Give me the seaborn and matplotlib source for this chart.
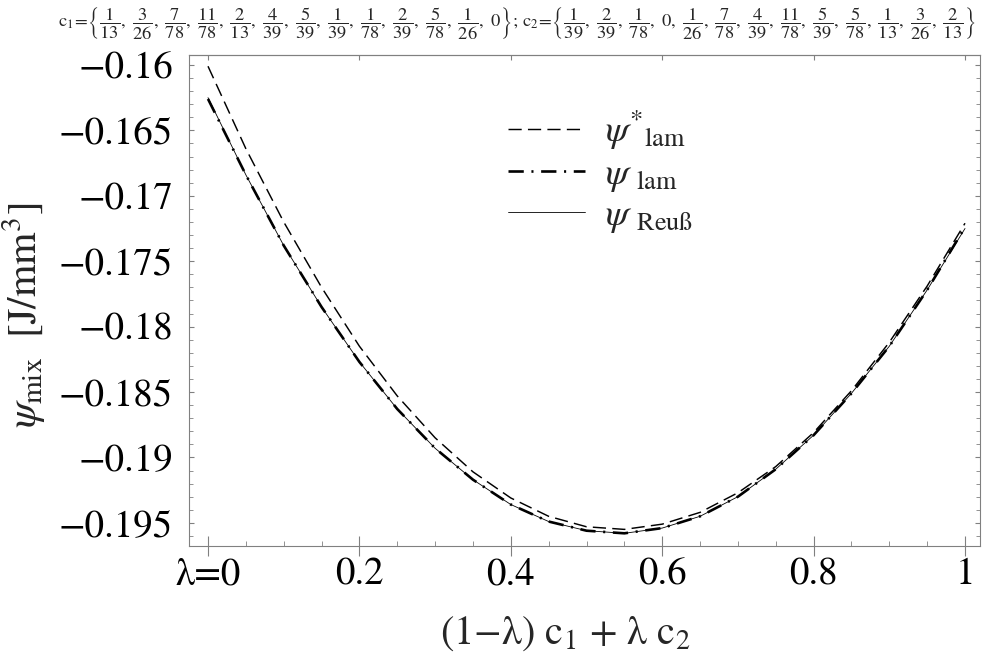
import matplotlib
matplotlib.use("Agg")
import matplotlib.pyplot as plt
from matplotlib.ticker import FixedLocator, MultipleLocator, NullLocator
import seaborn as sns
import pandas as pd

# ---- data ----
x_vals = [0.0, 0.05, 0.1, 0.15, 0.2, 0.25, 0.3, 0.35, 0.4, 0.45, 0.5,
          0.55, 0.6, 0.65, 0.7, 0.75, 0.8, 0.85, 0.9, 0.95, 1.0]
psi_star_lam = [-0.1601, -0.1664, -0.1720, -0.1770, -0.1815, -0.1853, -0.1885,
                -0.1911, -0.1931, -0.1945, -0.1953, -0.1955, -0.1951, -0.1942,
                -0.1927, -0.1907, -0.1881, -0.1849, -0.1812, -0.1769, -0.1721]
psi_lam = [-0.1626, -0.1684, -0.1738, -0.1785, -0.1827, -0.1863, -0.1893,
           -0.1917, -0.1936, -0.1949, -0.1956, -0.1958, -0.1954, -0.1945,
           -0.1930, -0.1909, -0.1883, -0.1851, -0.1815, -0.1772, -0.1724]
psi_reuss = [-0.1625, -0.1684, -0.1738, -0.1785, -0.1827, -0.1863, -0.1893,
             -0.1917, -0.1936, -0.1949, -0.1956, -0.1958, -0.1954, -0.1945,
             -0.1930, -0.1909, -0.1883, -0.1851, -0.1815, -0.1772, -0.1725]

x_ticks = [0.0, 0.2, 0.4, 0.6, 0.8, 1.0]
x_tick_labels = ["λ=0", "0.2", "0.4", "0.6", "0.8", "1"]
y_ticks = [-0.16, -0.165, -0.17, -0.175, -0.18, -0.185, -0.19, -0.195]
y_tick_labels = ["−0.16", "−0.165", "−0.17", "−0.175", "−0.18", "−0.185",
                 "−0.19", "−0.195"]

c1_fracs = ["1/13", "3/26", "7/78", "11/78", "2/13", "4/39", "5/39", "1/39",
            "1/78", "2/39", "5/78", "1/26", "0"]
c2_fracs = ["1/39", "2/39", "1/78", "0", "1/26", "7/78", "4/39", "11/78",
            "5/39", "5/78", "1/13", "3/26", "2/13"]

legend_labels = [r"$\psi^{*}{}_{\mathrm{lam}}$", r"$\psi\ {}_{\mathrm{lam}}$",
                 r"$\psi\ {}_{\mathrm{Reuß}}$"]

# ---- style ----
sns.set_theme(style="white")
plt.rcParams["font.family"] = ["STIXGeneral", "DejaVu Sans"]
plt.rcParams["mathtext.fontset"] = "stix"
plt.rcParams["lines.scale_dashes"] = False
plt.rcParams["axes.unicode_minus"] = True

GRAY = "#808080"

fig = plt.figure(figsize=(9.86, 6.61), dpi=100)
ax = fig.add_axes([189 / 986, 115 / 661, (980 - 189) / 986, (546 - 55) / 661])

df = pd.DataFrame({"x": x_vals, "star": psi_star_lam, "lam": psi_lam,
                   "reuss": psi_reuss})

sns.lineplot(data=df, x="x", y="star", ax=ax, color="black", lw=1.05,
             linestyle=(0, (9.5, 4.5)), label=legend_labels[0])
sns.lineplot(data=df, x="x", y="lam", ax=ax, color="black", lw=1.9,
             linestyle=(0, (11.0, 5.5, 1.5, 5.5)), label=legend_labels[1])
sns.lineplot(data=df, x="x", y="reuss", ax=ax, color="black", lw=0.6,
             linestyle="-", label=legend_labels[2])

ax.set_xlim(-0.0251, 1.0198)
ax.set_ylim(-0.19677, -0.15924)

ax.xaxis.set_major_locator(FixedLocator(x_ticks))
ax.set_xticklabels(x_tick_labels)
ax.xaxis.set_minor_locator(MultipleLocator(0.05))
ax.yaxis.set_major_locator(FixedLocator(y_ticks))
ax.set_yticklabels(y_tick_labels)
ax.yaxis.set_minor_locator(MultipleLocator(0.001))

for s in ax.spines.values():
    s.set_visible(True)
    s.set_color(GRAY)
    s.set_linewidth(0.8)

ax.tick_params(axis="x", which="major", direction="inout", length=13.7,
               width=0.8, color=GRAY, bottom=True, top=False,
               labelsize=28, pad=1.5, labelcolor="black")
ax.tick_params(axis="x", which="minor", direction="in", length=3.6,
               width=0.6, color=GRAY, bottom=True, top=False)
ax.tick_params(axis="y", which="major", direction="in", length=3.8,
               width=0.8, color=GRAY, left=True, right=True,
               labelsize=28, pad=11.5, labelcolor="black")
ax.tick_params(axis="y", which="minor", direction="in", length=2.8,
               width=0.6, color=GRAY, left=True, right=True)

secax = ax.secondary_xaxis("top")
secax.xaxis.set_major_locator(FixedLocator(x_ticks))
secax.xaxis.set_minor_locator(NullLocator())
secax.tick_params(axis="x", direction="in", length=3.8, width=0.8,
                  color=GRAY, labeltop=False)
for s in secax.spines.values():
    s.set_color(GRAY)
    s.set_linewidth(0.8)

ax.set_xlabel("(1−λ) c$_1$ + λ c$_2$", fontsize=29)
ax.xaxis.set_label_coords((565 - 189) / 791, (546 - 614) / 491)
ax.set_ylabel(r"$\psi_{\mathrm{mix}}\;$ [J/mm$^3$]", fontsize=30)
ax.yaxis.set_label_coords((48 - 189) / 791, (546 - 315) / 491)

# ---- title with fractions ----
def frac_tex(s):
    if "/" in s:
        n, d = s.split("/")
        return r"\dfrac{%s}{%s}" % (n, d)
    return s

title = (r"$\mathrm{c}_1\!=\!\left\{" + r",\ ".join(frac_tex(f) for f in c1_fracs)
         + r"\right\};\,\mathrm{c}_2\!=\!\left\{"
         + r",\ ".join(frac_tex(f) for f in c2_fracs) + r"\right\}$")
fig.text(517 / 986, 1 - 23 / 661, title, ha="center", va="center", fontsize=13.3)

# ---- legend ----
handles, labels = ax.get_legend_handles_labels()
leg = ax.legend(handles, labels, loc="upper left",
                bbox_to_anchor=(508 / 986, 1 - 108 / 661),
                bbox_transform=fig.transFigure, frameon=False, fontsize=27,
                handlelength=2.05, handletextpad=0.55, labelspacing=0.12,
                borderpad=0, borderaxespad=0)

fig.savefig("out.png", dpi=100)
